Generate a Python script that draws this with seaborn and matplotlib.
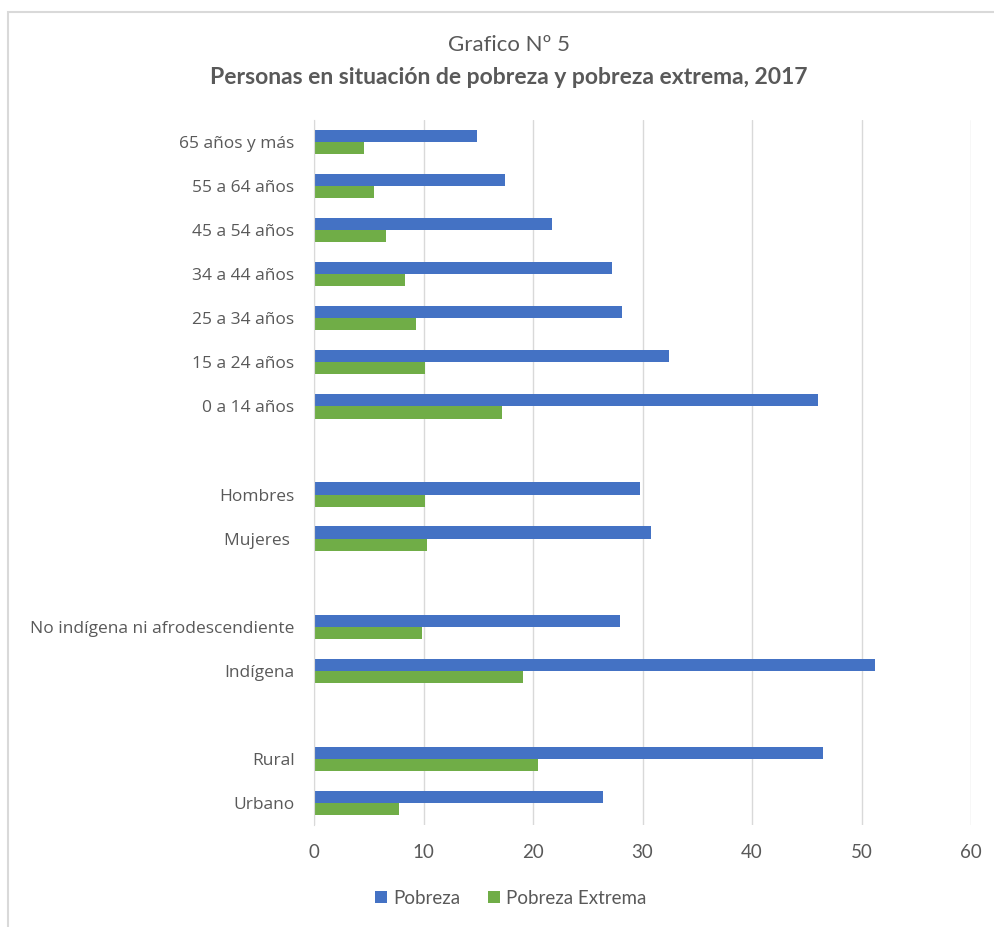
import matplotlib
matplotlib.use("Agg")
import matplotlib.pyplot as plt
import seaborn as sns
import pandas as pd
from matplotlib.patches import Rectangle

categorias = ["65 años y más", "55 a 64 años", "45 a 54 años", "34 a 44 años",
              "25 a 34 años", "15 a 24 años", "0 a 14 años",
              "Hombres", "Mujeres ",
              "No indígena ni afrodescendiente", "Indígena",
              "Rural", "Urbano"]
pobreza = [14.9, 17.4, 21.7, 27.2, 28.1, 32.4, 46.0,
           29.8, 30.8,
           27.9, 51.2,
           46.5, 26.4]
pobreza_extrema = [4.6, 5.5, 6.6, 8.3, 9.3, 10.1, 17.2,
                   10.1, 10.3,
                   9.9, 19.1,
                   20.5, 7.8]
series = ["Pobreza", "Pobreza Extrema"]
orden = ["65 años y más", "55 a 64 años", "45 a 54 años", "34 a 44 años",
         "25 a 34 años", "15 a 24 años", "0 a 14 años", " ",
         "Hombres", "Mujeres ", "  ",
         "No indígena ni afrodescendiente", "Indígena", "   ",
         "Rural", "Urbano"]
xticks = [0, 10, 20, 30, 40, 50, 60]

df = pd.DataFrame({
    "Categoria": categorias * 2,
    "Valor": pobreza + pobreza_extrema,
    "Serie": [series[0]] * len(categorias) + [series[1]] * len(categorias),
})

sns.set_style("white")
plt.rcParams["font.family"] = ["Open Sans", "DejaVu Sans"]

W, H = 994, 927
fig = plt.figure(figsize=(W / 100, H / 100), dpi=100)
fig.patch.set_facecolor("white")

# outer chart border
fig.patches.append(Rectangle((8 / W, -0.1), 1.2, 1 - 12 / H + 0.1,
                             transform=fig.transFigure, fill=False,
                             edgecolor="#D9D9D9", linewidth=1.5))

ax = fig.add_axes([314 / W, 1 - 825 / H, (971 - 314) / W, (825 - 120) / H])
sns.barplot(data=df, y="Categoria", x="Valor", hue="Serie", order=orden,
            hue_order=series, palette=["#4472C4", "#70AD47"], orient="h",
            width=0.55, ax=ax, linewidth=0, saturation=1)

ax.set_xlim(0, 60)
ax.set_xticks(xticks)
ax.set_xticklabels([str(v) for v in xticks], fontsize=13.5, color="#595959",
                   family=["Lato", "DejaVu Sans"])
ax.xaxis.grid(True, color="#D9D9D9", linewidth=1)
ax.set_axisbelow(True)
ax.tick_params(axis="x", length=0, pad=14)
ax.tick_params(axis="y", length=0, pad=14, labelsize=12.5, labelcolor="#595959")
for s in ["top", "right", "bottom"]:
    ax.spines[s].set_visible(False)
ax.spines["left"].set_color("#D9D9D9")
ax.set_xlabel("")
ax.set_ylabel("")

handles, labels = ax.get_legend_handles_labels()
ax.get_legend().remove()
fig.legend(handles, labels, loc="center", bbox_to_anchor=(511 / W, 1 - 898 / H),
           ncol=2, frameon=False, labelcolor="#595959",
           handlelength=0.6, handleheight=0.6, handletextpad=0.35,
           columnspacing=1.5, prop={"family": ["Lato", "DejaVu Sans"], "size": 13.5})

fig.text(509 / W, 1 - 45 / H, "Grafico Nº 5", ha="center", va="center",
         fontsize=16, color="#595959", family=["Lato", "DejaVu Sans"])
fig.text(509 / W, 1 - 77 / H, "Personas en situación de pobreza y pobreza extrema, 2017",
         ha="center", va="center", fontsize=16.5, fontweight="bold",
         color="#595959", family=["Lato", "DejaVu Sans"])

fig.savefig("out.png", dpi=100, facecolor="white")
